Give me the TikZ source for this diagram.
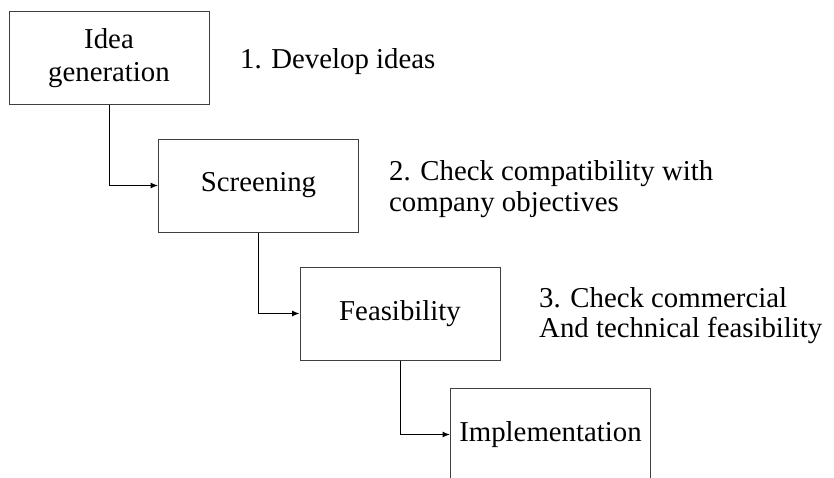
\documentclass[tikz,border=0pt]{standalone}
\usepackage{fontspec}
\setmainfont{Liberation Serif}
\usetikzlibrary{arrows.meta}
\begin{document}
\begin{tikzpicture}[x=1pt,y=-1pt,
  stage/.style={draw=black!75,line width=1pt,fill=white,minimum width=200pt,minimum height=93pt,inner sep=0pt,align=center,font=\fontsize{28.8}{33}\selectfont},
  note/.style={anchor=base west,inner sep=0pt,align=left,font=\fontsize{28.8}{30.5}\selectfont},
  link/.style={line width=1pt,-{Latex[length=7.5pt,width=6pt]}}]
\useasboundingbox (0,0) rectangle (834,477);
\clip (0,0) rectangle (834,477);
\node[stage] (A) at (109,58) {Idea\\generation};
\node[stage] (B) at (258.5,185.5) {Screening};
\node[stage] (C) at (400,313.5) {Feasibility};
\node[stage] (D) at (550.5,434.5) {Implementation};
\draw[link] (A.south) |- (B.west);
\draw[link] (B.south) |- (C.west);
\draw[link] (C.south) |- (D.west);
\node[note] (n1) at (240,68) {1. Develop ideas};
\node[note] (n2) at (389,211) {2. Check compatibility with\\company objectives};
\node[note] (n3) at (539,337.5) {3. Check commercial\\And technical feasibility};
\end{tikzpicture}
\end{document}
